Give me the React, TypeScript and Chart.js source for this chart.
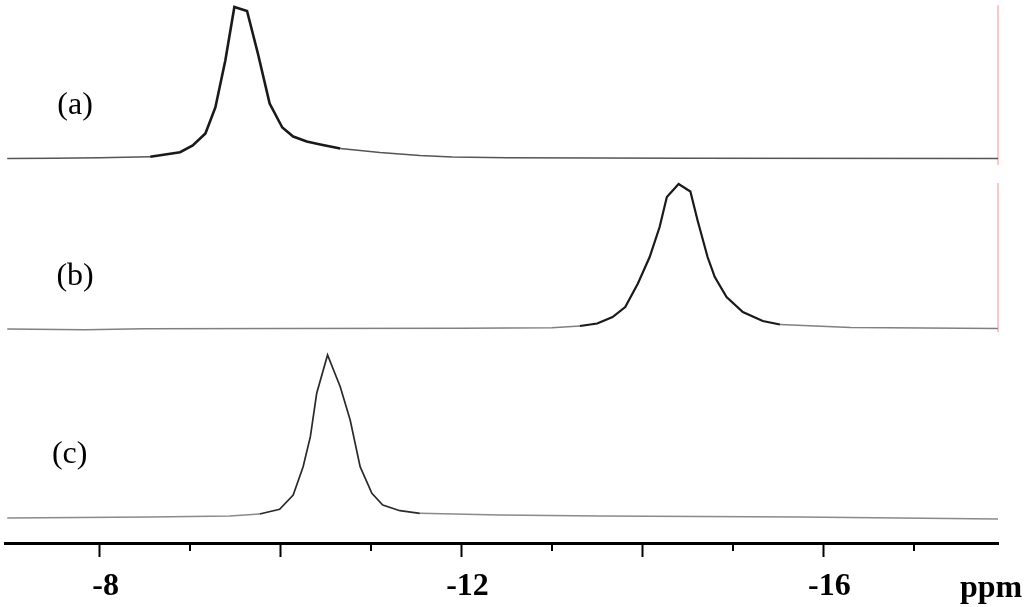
import React, { useEffect, useRef } from "react";
import { Chart, registerables } from "chart.js";

Chart.register(...registerables);

// Chemical shift (ppm) and intensity (a.u.) of the three spectra
const PPM_A = [-6.98, -7.5, -8.0, -8.56, -8.89, -9.03, -9.17, -9.28, -9.39, -9.49, -9.63, -9.75, -9.88, -10.02, -10.14, -10.29, -10.44, -10.66, -11.1, -11.54, -11.9, -12.5, -14.5, -17.93];
const INT_A = [0, 0.3, 0.8, 1.8, 6.3, 13, 25, 51, 98, 151.5, 147.5, 105, 55, 31, 22, 17, 14, 10, 6, 3, 1.5, 0.8, 0.3, 0];

const PPM_B = [-6.98, -7.84, -8.5, -10, -12, -13.0, -13.31, -13.5, -13.67, -13.81, -13.95, -14.08, -14.19, -14.27, -14.4, -14.53, -14.61, -14.72, -14.8, -14.93, -15.11, -15.33, -15.52, -16.3, -17.93];
const INT_B = [-0.5, -1.2, -0.3, 0, 0.3, 0.8, 2.5, 5, 11.5, 21.5, 45, 71.5, 101.5, 131.5, 144.5, 137, 108, 71.5, 51.5, 31.5, 16.5, 7.5, 4, 1, 0];

const PPM_C = [-6.98, -8.56, -9.44, -9.77, -9.99, -10.14, -10.25, -10.33, -10.4, -10.52, -10.66, -10.77, -10.88, -11.01, -11.13, -11.32, -11.54, -12.42, -13.53, -15.74, -17.93];
const INT_C = [0, 1, 2, 4, 8.7, 23, 51.3, 81.3, 124.7, 163, 131.3, 98, 51.3, 24.7, 13, 7.3, 4.7, 3, 2, 1, -1];

// vertical stacking offsets of each trace (a.u.)
const OFFSETS = [384.5, 214.5, 25];
const LABELS = ["(a)", "(b)", "(c)"];
const LABEL_RISE = [53, 52, 63];
const LABEL_PPM = [-7.73, -7.73, -7.67];

// window-edge markers at right end of (a) and (b)
const EDGE_PPM = -17.93;
const EDGE_A = [378, 538];
const EDGE_B = [211, 360];

// axis
const X_MIN = -17.93;
const X_MAX = -6.955;
const TICK_VALUES = [-8, -9, -10, -11, -12, -13, -14, -15, -16, -17];
const MAJOR_TICKS = [-8, -10, -12, -14, -16];
const LABELED_TICKS = [-8, -12, -16];
const X_TITLE = "ppm";

const toPts = (xs: number[], ys: number[], off: number) =>
  xs.map((x, i) => ({ x, y: ys[i] + off }));

// peak segments dark/thick, flat baseline segments grey/thin (scan look)
const seg = (dark: string, grey: string, wDark: number, wGrey: number) => ({
  borderColor: (c: any) => {
    const dx = Math.abs(c.p1.x - c.p0.x) || 1;
    const s = Math.abs(c.p1.y - c.p0.y) / dx;
    return s > 0.12 ? dark : grey;
  },
  borderWidth: (c: any) => {
    const dx = Math.abs(c.p1.x - c.p0.x) || 1;
    const s = Math.abs(c.p1.y - c.p0.y) / dx;
    return s > 0.12 ? wDark : wGrey;
  },
});

export default function App() {
  const ref = useRef<HTMLCanvasElement>(null);

  useEffect(() => {
    if (!ref.current) return;

    const overlay = {
      id: "overlay",
      afterDraw(chart: any) {
        const ctx = chart.ctx;
        const xs = chart.scales.x;
        const ys = chart.scales.y;
        const bottom = chart.chartArea.bottom;
        ctx.save();
        ctx.strokeStyle = "#000";
        ctx.lineWidth = 2;
        TICK_VALUES.filter((v) => !MAJOR_TICKS.includes(v)).forEach((v) => {
          const px = Math.round(xs.getPixelForValue(v));
          ctx.beginPath();
          ctx.moveTo(px, bottom);
          ctx.lineTo(px, bottom + 8);
          ctx.stroke();
        });
        ctx.fillStyle = "#000";
        ctx.font = '32px "Liberation Serif"';
        ctx.textAlign = "center";
        ctx.textBaseline = "middle";
        LABELS.forEach((t, i) => {
          ctx.fillText(t, xs.getPixelForValue(LABEL_PPM[i]), ys.getPixelForValue(OFFSETS[i] + LABEL_RISE[i]));
        });
        ctx.font = 'bold 32px "Liberation Serif"';
        ctx.textAlign = "left";
        ctx.textBaseline = "alphabetic";
        ctx.fillText(X_TITLE, 960, 597);
        ctx.restore();
      },
    };

    const chart = new Chart(ref.current, {
      type: "line",
      data: {
        datasets: [
          { data: toPts(PPM_A, INT_A, OFFSETS[0]), borderColor: "#1a1a1a", borderWidth: 2.6, segment: seg("#1a1a1a", "#555", 2.6, 1.6) },
          { data: toPts(PPM_B, INT_B, OFFSETS[1]), borderColor: "#1a1a1a", borderWidth: 2.2, segment: seg("#1a1a1a", "#808080", 2.2, 1.5) },
          { data: toPts(PPM_C, INT_C, OFFSETS[2]), borderColor: "#2a2a2a", borderWidth: 1.7, segment: seg("#2a2a2a", "#8a8a8a", 1.7, 1.4) },
          { data: EDGE_A.map((y) => ({ x: EDGE_PPM, y })), borderColor: "#ffb4b4", borderWidth: 1.5 },
          { data: EDGE_B.map((y) => ({ x: EDGE_PPM, y })), borderColor: "#ffb4b4", borderWidth: 1.5 },
        ].map((d) => ({ ...d, pointRadius: 0, tension: 0, fill: false, clip: false })) as any,
      },
      options: {
        animation: false,
        responsive: false,
        parsing: false as any,
        layout: { padding: { left: 5, right: 26, top: 0, bottom: 0 } },
        plugins: { legend: { display: false }, tooltip: { enabled: false } },
        scales: {
          x: {
            type: "linear",
            reverse: true,
            min: X_MIN,
            max: X_MAX,
            afterBuildTicks: (scale: any) => {
              scale.ticks = TICK_VALUES.map((v) => ({ value: v }));
            },
            afterFit: (scale: any) => {
              scale.height = 64;
            },
            border: { display: true, color: "#000", width: 3 },
            grid: {
              display: true,
              drawOnChartArea: false,
              drawTicks: true,
              tickLength: 14,
              tickWidth: 2,
              tickColor: (c: any) =>
                c.tick && MAJOR_TICKS.includes(c.tick.value) ? "#000" : "rgba(0,0,0,0)",
            },
            ticks: {
              autoSkip: false,
              maxRotation: 0,
              padding: 11,
              labelOffset: 6,
              color: "#000",
              font: { family: '"Liberation Serif"', size: 32, weight: "bold" },
              callback: (v: any) => (LABELED_TICKS.includes(Number(v)) ? String(v) : ""),
            },
          },
          y: { display: false, min: 0, max: 543 },
        },
      },
      plugins: [overlay],
    });
    return () => chart.destroy();
  }, []);

  return (
    <div style={{ position: "fixed", left: 0, top: 0, width: 1024, height: 607, background: "#fff" }}>
      <canvas ref={ref} width={1024} height={607} />
    </div>
  );
}
